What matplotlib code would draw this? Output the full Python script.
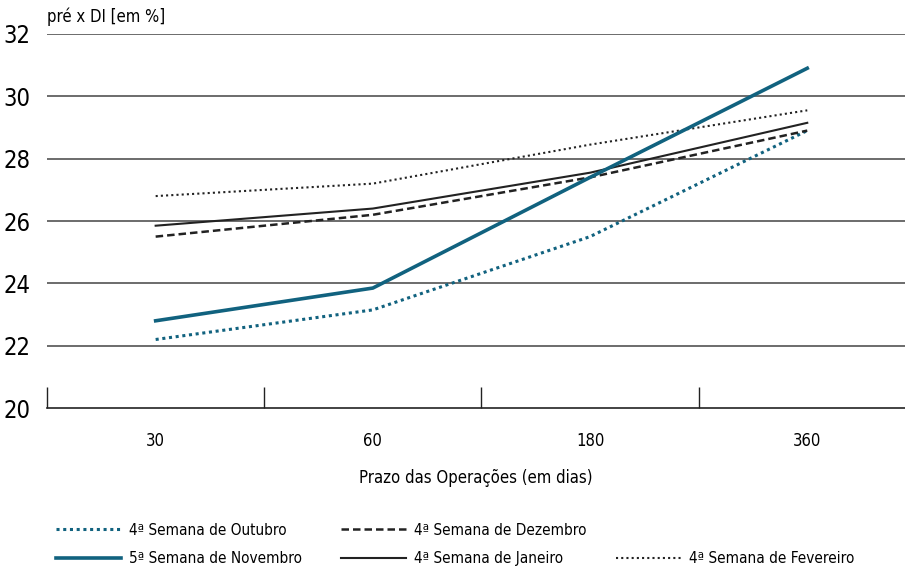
import matplotlib.pyplot as plt
from matplotlib.lines import Line2D

plt.rcParams['font.family'] = ['DejaVu Sans']
plt.rcParams['font.stretch'] = 'condensed'

prazos = ["30", "60", "180", "360"]
outubro = [22.2, 23.15, 25.5, 28.9]
novembro = [22.8, 23.85, 27.4, 30.9]
dezembro = [25.5, 26.2, 27.4, 28.9]
janeiro = [25.85, 26.4, 27.55, 29.15]
fevereiro = [26.8, 27.2, 28.45, 29.55]

teal = "#11627f"
x = range(len(prazos))

fig = plt.figure(figsize=(9.05, 5.66), dpi=100)
ax = fig.add_axes([0.052, 0.279, 0.948, 0.661])

for yv in [22, 24, 26, 28, 30, 32]:
    ax.axhline(yv, color="#444444", lw=1.1, zorder=1)

l_out, = ax.plot(x, outubro, color=teal, lw=2.2, ls=(0, (1, 1.2)), label="4ª Semana de Outubro", zorder=3)
l_nov, = ax.plot(x, novembro, color=teal, lw=2.6, label="5ª Semana de Novembro", zorder=4)
l_dez, = ax.plot(x, dezembro, color="#222222", lw=1.8, ls=(0, (3, 1.6)), label="4ª Semana de Dezembro", zorder=3)
l_jan, = ax.plot(x, janeiro, color="#222222", lw=1.5, label="4ª Semana de Janeiro", zorder=3)
l_fev, = ax.plot(x, fevereiro, color="#222222", lw=1.5, ls=(0, (1, 1.5)), label="4ª Semana de Fevereiro", zorder=3)

ax.set_xlim(-0.5, 3.45)
ax.set_ylim(20, 32)
ax.set_yticks([20, 22, 24, 26, 28, 30, 32])
ax.set_xticks(list(x))
ax.set_xticklabels(prazos)
ax.set_xticks([-0.5, 0.5, 1.5, 2.5], minor=True)
ax.tick_params(axis="x", which="major", length=0, labelsize=12, pad=17)
ax.tick_params(axis="x", which="minor", direction="in", length=15, width=1, color="#222222")
ax.tick_params(axis="y", length=0, labelsize=17, pad=12)
for s in ["top", "right", "left"]:
    ax.spines[s].set_visible(False)
ax.spines["bottom"].set_color("#222222")
ax.spines["bottom"].set_linewidth(1.2)

ax.set_xlabel("Prazo das Operações (em dias)", fontsize=12, labelpad=14)
ax.text(0.0, 1.02, "pré x DI [em %]", transform=ax.transAxes, fontsize=12, va="bottom", ha="left")

blank = Line2D([], [], color="none")
columns = [([l_out, l_nov], 48), ([l_dez, l_jan], 333), ([blank, l_fev], 608)]
for hs, xpx in columns:
    labs = [h.get_label() if h is not blank else " " for h in hs]
    fig.legend(hs, labs, loc="upper left", bbox_to_anchor=(xpx / 905, 1 - 515 / 566),
               frameon=False, fontsize=11, handlelength=4.3, borderpad=0,
               labelspacing=0.9, handletextpad=0.5)

fig.savefig("out.png", dpi=100)
